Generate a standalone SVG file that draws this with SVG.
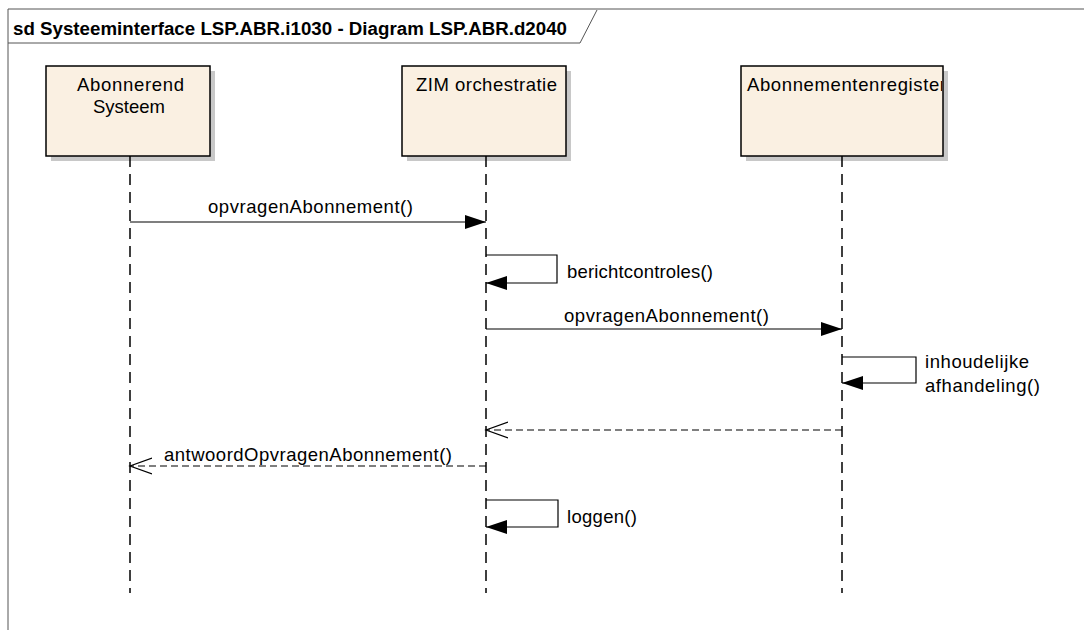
<svg xmlns="http://www.w3.org/2000/svg" width="1084" height="630" viewBox="0 0 1084 630">
<style>
text{font-family:"Liberation Sans",Arial,sans-serif;font-size:18.5px;fill:#000}
.title{font-weight:bold;font-size:18.7px}
.box{fill:#faf0e2;stroke:#000;stroke-width:1.5}
.shadow{fill:#c8c8c8}
.life{stroke:#000;stroke-width:1.5;stroke-dasharray:11,7;fill:none}
.msg{stroke:#000;stroke-width:1.2;fill:none}
.ret{stroke:#000;stroke-width:1.2;fill:none;stroke-dasharray:7,4}
</style>
<defs>
<marker id="filled" markerWidth="22" markerHeight="16" refX="21" refY="8" orient="auto" markerUnits="userSpaceOnUse">
<path d="M0,1 L21,8 L0,15 Z" fill="#000"/>
</marker>
<marker id="open" markerWidth="24" markerHeight="18" refX="22" refY="9" orient="auto" markerUnits="userSpaceOnUse">
<path d="M0,1 L22,9 L0,17" fill="none" stroke="#000" stroke-width="1.2"/>
</marker>
<clipPath id="clipReg"><rect x="741" y="66" width="201" height="90"/></clipPath>
</defs>
<rect width="1084" height="630" fill="#fff"/>
<g id="frame">
<path d="M8,640 L8,9 L1090,9" fill="none" stroke="#555" stroke-width="1"/>
<path d="M8,43 L580,43 L597,10" fill="none" stroke="#555" stroke-width="1"/>
<text class="title" x="13" y="35" textLength="554">sd Systeeminterface LSP.ABR.i1030 - Diagram LSP.ABR.d2040</text>
</g>
<g id="abonnerend-systeem">
<rect class="shadow" x="51" y="71" width="164" height="90"/>
<rect class="box" x="46" y="66" width="164" height="90"/>
<text x="77" y="91" textLength="107">Abonnerend</text>
<text x="93" y="113" textLength="72">Systeem</text>
<line class="life" x1="130" y1="156" x2="130" y2="593"/>
</g>
<g id="zim-orchestratie">
<rect class="shadow" x="407" y="71" width="164" height="90"/>
<rect class="box" x="402" y="66" width="164" height="90"/>
<text x="416" y="91" textLength="141">ZIM orchestratie</text>
<line class="life" x1="486" y1="156" x2="486" y2="593"/>
</g>
<g id="abonnementenregister">
<rect class="shadow" x="746" y="71" width="202" height="90"/>
<rect class="box" x="741" y="66" width="202" height="90"/>
<text x="747" y="91" textLength="199" clip-path="url(#clipReg)">Abonnementenregister</text>
<line class="life" x1="842" y1="156" x2="842" y2="593"/>
</g>
<g id="connectors">
<line class="msg" x1="130" y1="222" x2="486" y2="222" marker-end="url(#filled)"/>
<text x="208" y="213" textLength="205">opvragenAbonnement()</text>
<path class="msg" d="M486,255 L557,255 L557,283 L486,283" marker-end="url(#filled)"/>
<text x="567" y="278" textLength="146">berichtcontroles()</text>
<line class="msg" x1="486" y1="329" x2="842" y2="329" marker-end="url(#filled)"/>
<text x="564" y="322" textLength="205">opvragenAbonnement()</text>
<path class="msg" d="M842,357 L916,357 L916,383 L842,383" marker-end="url(#filled)"/>
<text x="925" y="368" textLength="104">inhoudelijke</text>
<text x="925" y="392" textLength="115">afhandeling()</text>
<line class="ret" x1="842" y1="430" x2="486" y2="430" marker-end="url(#open)"/>
<line class="ret" x1="486" y1="466" x2="130" y2="466" marker-end="url(#open)"/>
<text x="164" y="461" textLength="288">antwoordOpvragenAbonnement()</text>
<path class="msg" d="M486,500 L558,500 L558,527 L486,527" marker-end="url(#filled)"/>
<text x="567" y="523" textLength="70">loggen()</text>
</g>
</svg>
